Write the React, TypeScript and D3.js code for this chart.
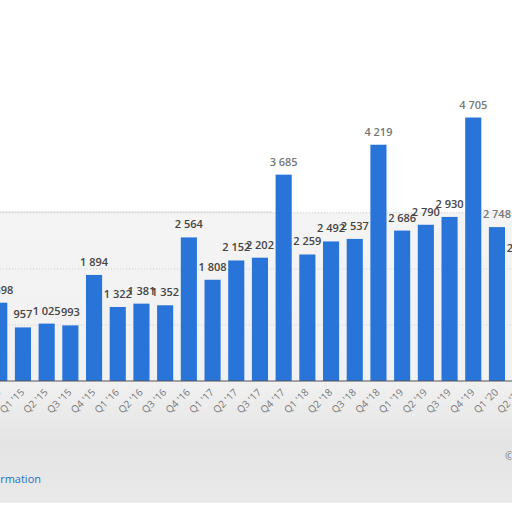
import React, { useEffect, useRef } from 'react'
import * as d3 from 'd3'

// quarters shown (first and last bars are cut by the frame)
const quarters = [
  "Q4 '14", "Q1 '15", "Q2 '15", "Q3 '15", "Q4 '15",
  "Q1 '16", "Q2 '16", "Q3 '16", "Q4 '16",
  "Q1 '17", "Q2 '17", "Q3 '17", "Q4 '17",
  "Q1 '18", "Q2 '18", "Q3 '18", "Q4 '18",
  "Q1 '19", "Q2 '19", "Q3 '19", "Q4 '19",
  "Q1 '20", "Q2 '20",
]
const values = [
  1398, 957, 1025, 993, 1894,
  1322, 1381, 1352, 2564,
  1808, 2152, 2202, 3685,
  2259, 2492, 2537, 4219,
  2686, 2790, 2930, 4705,
  2748, 2140,
]
// labels that sit in the washed-out part of the picture
const fadedLabels = ["Q4 '17", "Q4 '18", "Q4 '19", "Q1 '20"]
const gridTicks = [1000, 2000, 3000]

const fmt = (n: number) => d3.format(',')(n).replace(/,/g, ' ')

export default function App() {
  const ref = useRef<SVGSVGElement | null>(null)

  useEffect(() => {
    if (!ref.current) return
    const svg = d3.select(ref.current)
    svg.selectAll('*').remove()

    const baseY = 381
    const x = d3
      .scaleBand<string>()
      .domain(quarters)
      .range([-12.6, -12.6 + quarters.length * 23.7])
      .paddingInner(0.32)
      .paddingOuter(0.16)
    const y = d3.scaleLinear().domain([0, 5000]).range([baseY, baseY - 280])

    // soft grey panel behind the plot
    const defs = svg.append('defs')
    const grad = defs
      .append('linearGradient')
      .attr('id', 'panel')
      .attr('x1', 0).attr('y1', 0).attr('x2', 0).attr('y2', 1)
    grad.append('stop').attr('offset', '0%').attr('stop-color', '#f4f4f4')
    grad.append('stop').attr('offset', '58%').attr('stop-color', '#f1f1f1')
    grad.append('stop').attr('offset', '80%').attr('stop-color', '#e4e4e4')
    grad.append('stop').attr('offset', '100%').attr('stop-color', '#eaeaea')
    svg.append('rect')
      .attr('x', 0).attr('y', 212).attr('width', 512).attr('height', 291)
      .attr('fill', 'url(#panel)')
    svg.append('line')
      .attr('x1', 0).attr('x2', 272).attr('y1', 212).attr('y2', 212)
      .attr('stroke', '#d6d6d6')

    // dotted gridlines
    svg.append('g')
      .selectAll('line')
      .data(gridTicks)
      .join('line')
      .attr('x1', 0).attr('x2', 512)
      .attr('y1', (d) => y(d)).attr('y2', (d) => y(d))
      .attr('stroke', '#d0d0d0')
      .attr('stroke-dasharray', '1,2')

    svg.append('g')
      .selectAll('rect')
      .data(values)
      .join('rect')
      .attr('x', (_, i) => x(quarters[i]) as number)
      .attr('y', (d) => y(d))
      .attr('width', x.bandwidth())
      .attr('height', (d) => y(0) - y(d))
      .attr('fill', '#2874d8')

    svg.append('line')
      .attr('x1', 0).attr('x2', 512)
      .attr('y1', baseY).attr('y2', baseY)
      .attr('stroke', '#555')

    // value labels
    svg.append('g')
      .selectAll('text')
      .data(values)
      .join('text')
      .attr('x', (_, i) => (x(quarters[i]) as number) + x.bandwidth() / 2)
      .attr('y', (d) => y(d) - 9)
      .attr('text-anchor', 'middle')
      .attr('font-family', '"Open Sans", sans-serif')
      .attr('font-size', 11)
      .attr('font-weight', 600)
      .attr('fill', (_, i) => (fadedLabels.includes(quarters[i]) ? '#777' : '#444'))
      .text((d) => fmt(d))

    // rotated category labels
    svg.append('g')
      .selectAll('text')
      .data(quarters)
      .join('text')
      .attr('transform', (d) => `translate(${(x(d) as number) + x.bandwidth() / 2 + 2},${baseY + 12}) rotate(-45)`)
      .attr('text-anchor', 'end')
      .attr('font-family', '"Open Sans", sans-serif')
      .attr('font-size', 10)
      .attr('fill', '#777')
      .text((d) => d)

    svg.append('text')
      .attr('x', 41).attr('y', 483)
      .attr('text-anchor', 'end')
      .attr('font-family', '"Open Sans", sans-serif')
      .attr('font-size', 11)
      .attr('fill', '#1f6fc5')
      .text('Additional Information')

    svg.append('text')
      .attr('x', 505).attr('y', 460)
      .attr('font-family', '"Open Sans", sans-serif')
      .attr('font-size', 11)
      .attr('fill', '#777')
      .text('© Statista 2021')
  }, [])

  return (
    <svg
      ref={ref}
      width={512}
      height={512}
      style={{ position: 'fixed', left: 0, top: 0, background: '#fff' }}
    />
  )
}
